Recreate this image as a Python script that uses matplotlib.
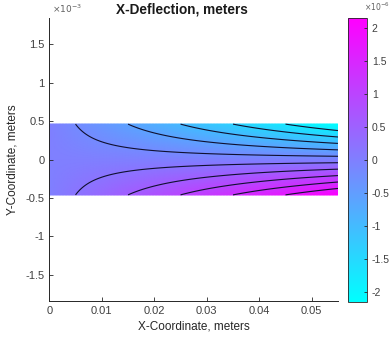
import numpy as np
import matplotlib
matplotlib.use("Agg")
import matplotlib.pyplot as plt
from matplotlib.ticker import FuncFormatter

plt.rcParams['font.family'] = ['Liberation Sans', 'DejaVu Sans']
plt.rcParams['contour.negative_linestyle'] = 'solid'

# ---- data ----
x_edges = [0.0, 0.055]                 # beam length extent, m
y_edges = [-0.46e-3, 0.46e-3]          # beam thickness extent, m
# X-deflection at the corners [row: y_edges, col: x_edges]
u_corners = [[0.0, 2.13e-6],
             [0.0, -2.13e-6]]
n_levels = 12                           # contour levels (ends excluded)
clim = [-2.14e-6, 2.14e-6]
x_ticks = [0, 0.01, 0.02, 0.03, 0.04, 0.05]
y_ticks = [-1.5e-3, -1e-3, -0.5e-3, 0, 0.5e-3, 1e-3, 1.5e-3]
cb_ticks = [-2e-6, -1.5e-6, -1e-6, -0.5e-6, 0, 0.5e-6, 1e-6, 1.5e-6, 2e-6]
ylim = [-1.84e-3, 1.84e-3]

# ---- field on the rectangle (bilinear from corner values) ----
xs = np.linspace(x_edges[0], x_edges[1], 200)
ys = np.linspace(y_edges[0], y_edges[1], 100)
X, Y = np.meshgrid(xs, ys)
uc = np.array(u_corners)
tx = (X - x_edges[0]) / (x_edges[1] - x_edges[0])
ty = (Y - y_edges[0]) / (y_edges[1] - y_edges[0])
U = (uc[0, 0] * (1 - tx) * (1 - ty) + uc[0, 1] * tx * (1 - ty)
     + uc[1, 0] * (1 - tx) * ty + uc[1, 1] * tx * ty)

W, H = 391, 342
fig = plt.figure(figsize=(W / 100, H / 100), dpi=100)
ax = fig.add_axes([49.3 / W, (H - 301) / H, (338 - 49.3) / W, (301 - 18) / H])

tc = '#404040'
pm = ax.pcolormesh(X, Y, U, cmap='cool', vmin=clim[0], vmax=clim[1],
                   shading='gouraud', rasterized=True)
levels = np.linspace(U.min(), U.max(), n_levels)[1:-1]
ax.contour(X, Y, U, levels=levels, colors='#101030', linewidths=0.8,
           linestyles='solid')

ax.set_xlim(x_edges[0], x_edges[1])
ax.set_ylim(*ylim)
ax.set_xticks(x_ticks)
ax.set_yticks(y_ticks)

def fmt(v, scale):
    s = ('%.2f' % (v / scale)).rstrip('0').rstrip('.')
    if s == '-0':
        s = '0'
    return s

ax.xaxis.set_major_formatter(FuncFormatter(lambda v, p: fmt(v, 1)))
ax.yaxis.set_major_formatter(FuncFormatter(lambda v, p: fmt(v, 1e-3)))
for s in ['top', 'right']:
    ax.spines[s].set_visible(False)
for s in ['left', 'bottom']:
    ax.spines[s].set_color('#262626')
    ax.spines[s].set_linewidth(0.7)
ax.tick_params(direction='in', length=3, width=0.6, colors='#262626',
               labelcolor=tc, labelsize=8)
ax.set_xlabel('X-Coordinate, meters', fontsize=8.5, color='#262626', labelpad=3)
ax.set_ylabel('Y-Coordinate, meters', fontsize=8.5, color='#262626', labelpad=5)

fig.text(182 / W, 1 - 9 / H, 'X-Deflection, meters', ha='center', va='center',
         fontsize=9.8, fontweight='bold', color='#1a1a1a')
fig.text(52 / W, 1 - 9 / H, r'$\times 10^{-3}$', ha='left', va='center',
         fontsize=6.5, color='#606060')
fig.text(390 / W, 1 - 7 / H, r'$\times 10^{-6}$', ha='right', va='center',
         fontsize=5.5, color='#606060')

cax = fig.add_axes([348 / W, (H - 301.7) / H, 19 / W, 283.4 / H])
cb = fig.colorbar(pm, cax=cax, ticks=cb_ticks)
cb.ax.yaxis.set_major_formatter(FuncFormatter(lambda v, p: fmt(v, 1e-6)))
cb.ax.tick_params(direction='in', length=2.5, width=0.6, colors='#262626',
                  labelcolor=tc, labelsize=7.5)
cb.outline.set_linewidth(0.6)
cb.outline.set_edgecolor('#262626')

fig.savefig('out.png', dpi=100)
